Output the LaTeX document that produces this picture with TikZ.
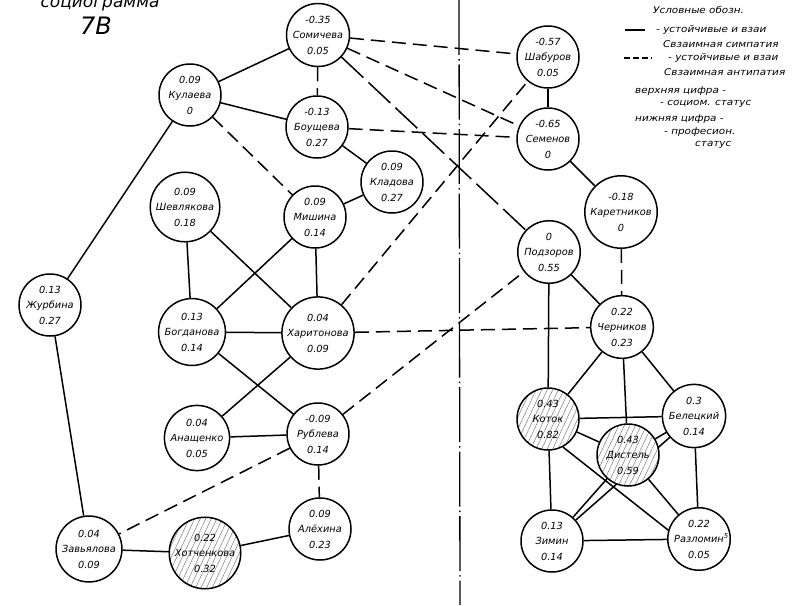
\documentclass[tikz,border=0pt]{standalone}
\usepackage{fontspec}
\setmainfont{DejaVu Sans}
\usetikzlibrary{patterns.meta,backgrounds}
\tikzset{
  person/.style={circle,draw,line width=1.5pt,minimum size=62pt,inner sep=0pt,
    align=center,fill=white,font=\fontsize{9.8}{15.5}\selectfont\itshape},
  hatched/.style={preaction={fill=white},
    pattern={Lines[angle=65,distance=5pt,line width=0.45pt]},pattern color=black!55},
  plink/.style={line width=1.5pt},
  nlink/.style={line width=1.5pt,dash pattern=on 14pt off 7pt},
  longnlink/.style={line width=1.5pt,dash pattern=on 30pt off 7pt},
  divider/.style={line width=1.3pt,dash pattern=on 55pt off 4pt on 1.5pt off 4pt},
  legend/.style={anchor=west,inner sep=0pt,
    font=\fontsize{9.3}{11}\selectfont\itshape\addfontfeature{FakeStretch=1.12}},
  title/.style={inner sep=0pt,font=\fontsize{17}{18}\selectfont\itshape}
}
\begin{document}
\begin{tikzpicture}[x=1pt,y=-1pt]
\useasboundingbox (0,0) rectangle (800,605);
% title
\node[title,anchor=base] (t1) at (100,8) {социограмма};
\node[title,font=\fontsize{24}{26}\selectfont\itshape] (t2) at (96,26) {7В};
% divider
\coordinate (dtop) at (459,0);
\coordinate (dbot) at (460,605);
\draw[divider] (dtop) -- (dbot);
% persons
\node[person] (som)  at (318,35)  {-0.35\\Сомичева\\0.05};
\node[person] (kul)  at (190,95)  {0.09\\Кулаева\\0};
\node[person] (bou)  at (317,127) {-0.13\\Боущева\\0.27};
\node[person] (kla)  at (392,182) {0.09\\Кладова\\0.27};
\node[person] (shev) at (185,207) {0.09\\Шевлякова\\0.18};
\node[person] (mish) at (315,217) {0.09\\Мишина\\0.14};
\node[person] (zhur) at (50,305)  {0.13\\Журбина\\0.27};
\node[person] (bog)  at (192,332) {0.13\\Богданова\\0.14};
\node[person] (har)  at (318,333) {0.04\\Харитонова\\0.09};
\node[person] (ana)  at (197,438) {0.04\\Анащенко\\0.05};
\node[person] (rub)  at (318,434) {-0.09\\Рублева\\0.14};
\node[person] (ale)  at (320,529) {0.09\\Алёхина\\0.23};
\node[person] (zav)  at (89,549)  {0.04\\Завьялова\\0.09};
\node[person,hatched] (hot) at (205,553) {0.22\\Хотченкова\\0.32};
\node[person] (shab) at (548,57)  {-0.57\\Шабуров\\0.05};
\node[person] (sem)  at (548,139) {-0.65\\Семенов\\0};
\node[person] (kar)  at (621,212) {-0.18\\Каретников\\0};
\node[person] (pod)  at (549,252) {0\\Подзоров\\0.55};
\node[person] (cher) at (622,327) {0.22\\Черников\\0.23};
\node[person,hatched] (kot) at (548,419) {0.43\\Коток\\0.82};
\node[person] (bel)  at (694,416) {0.3\\Белецкий\\0.14};
\node[person,hatched] (dis) at (628,455) {0.43\\Дистель\\0.59};
\node[person] (zim)  at (552,541) {0.13\\Зимин\\0.14};
\node[person] (raz)  at (699,539) {0.22\\Разломин\rlap{\textsuperscript{5}}\\0.05};
% connectors
\begin{scope}[on background layer]
\draw[plink] (som) -- (kul);
\draw[nlink] (som) -- (bou);
\draw[nlink] (som) -- (shab);
\draw[nlink] (som) -- (sem);
\draw[longnlink] (som) -- (pod);
\draw[plink] (kul) -- (bou);
\draw[nlink] (kul) -- (mish);
\draw[plink] (kul) -- (zhur);
\draw[nlink] (bou) -- (sem);
\draw[plink] (bou) -- (kla);
\draw[plink] (kla) -- (mish);
\draw[plink] (shev) -- (bog);
\draw[plink] (shev) -- (har);
\draw[plink] (mish) -- (bog);
\draw[plink] (mish) -- (har);
\draw[nlink] (har) -- (shab);
\draw[plink] (bog) -- (har);
\draw[plink] (bog) -- (rub);
\draw[plink] (har) -- (ana);
\draw[nlink] (har) -- (cher);
\draw[plink] (ana) -- (rub);
\draw[nlink] (rub) -- (pod);
\draw[nlink] (rub) -- (ale);
\draw[nlink] (rub) -- (zav);
\draw[plink] (ale) -- (hot);
\draw[plink] (hot) -- (zav);
\draw[plink] (zav) -- (zhur);
\draw[plink] (shab) -- (sem);
\draw[plink] (sem) -- (kar);
\draw[nlink] (kar) -- (cher);
\draw[plink] (pod) -- (cher);
\draw[plink] (pod) -- (kot);
\draw[plink] (cher) -- (kot);
\draw[plink] (cher) -- (dis);
\draw[plink] (cher) -- (bel);
\draw[plink] (kot) -- (bel);
\draw[plink] (kot) -- (dis);
\draw[plink] (kot) -- (zim);
\draw[plink] (kot.-62) -- (raz.164);
\draw[plink] (bel) -- (dis);
\draw[plink] (bel) -- (zim);
\draw[plink] (bel) -- (raz);
\draw[plink] (dis) -- (zim);
\draw[plink] (dis) -- (raz);
\draw[plink] (zim) -- (raz);
\end{scope}
% legend
\node[legend] (l1) at (653,10) {Условные обозн.};
\coordinate (s1a) at (625,30); \coordinate (s1b) at (645,30);
\draw[line width=1.2pt] (s1a) -- (s1b);
\node[legend] (l2) at (656,30) {- устойчивые и взаи};
\node[legend] (l3) at (663,44) {Свзаимная симпатия};
\coordinate (s2a) at (624,58); \coordinate (s2b) at (652,58);
\draw[line width=1.2pt,dash pattern=on 6pt off 3pt] (s2a) -- (s2b);
\node[legend] (l4) at (668,58) {- устойчивые и взаи};
\node[legend] (l5) at (664,72) {Свзаимная антипатия};
\node[legend] (l6) at (635,91) {верхняя цифра -};
\node[legend] (l7) at (660,104) {- социом. статус};
\node[legend] (l8) at (635,119) {нижняя цифра -};
\node[legend] (l9) at (664,132) {- професион.};
\node[legend] (l10) at (695,145) {статус};
\end{tikzpicture}
\end{document}
